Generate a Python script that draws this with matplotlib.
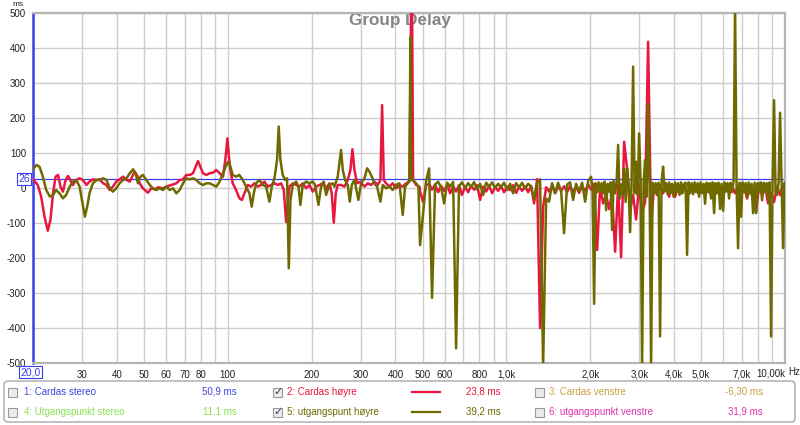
import matplotlib
matplotlib.use("Agg")
import matplotlib.pyplot as plt
import matplotlib.transforms as mtransforms
from matplotlib.patches import FancyBboxPatch, Rectangle
from matplotlib.ticker import NullLocator

plt.rcParams['font.family'] = ['Liberation Sans', 'DejaVu Sans']
plt.rcParams['axes.unicode_minus'] = False

# --- trace 2 (Cardas hoyre), 20 Hz - 490 Hz
red_lf_freq = [20, 20.8, 21.4, 22.0, 22.6, 23.1, 23.6, 24.1, 24.6, 25.1,
               25.6, 26.2, 26.7, 27.2, 27.8, 28.6, 29.4, 30.2, 31.1, 31.9,
               32.8, 33.8, 34.7, 35.7, 36.7, 37.7, 38.7, 39.8, 40.9, 42.1,
               43.3, 44.5, 45.7, 46.3, 47.2, 48.3, 49.6, 51.7, 53.2, 54.7,
               56.2, 58.6, 60.2, 62.7, 65.4, 67.2, 69.1, 71.0, 73.0, 75.0,
               76.7, 78.2, 79.7, 81.5, 83.8, 86.1, 88.5, 91.0, 93.5, 96.2,
               98.3, 99.7, 101,
               102.2, 104.2, 107.1, 110.1, 112.3, 114.8, 118.0, 121.2, 124.6, 128.1,
               131.7, 135.4, 139.2, 143.1, 147.1, 151.2, 155.4, 158.9, 162.0, 164.2,
               166.5, 171.2, 176.0, 180.8, 185.8, 191.1, 196.4, 201.9, 207.6, 213.3,
               219.3, 225.4, 231.7, 236.2, 240.2, 244.2, 248.2, 255.1, 262.3, 269.6,
               275.6, 280.2, 284.9, 291.2, 299.4, 309.4, 318.1, 326.9, 336.0, 345.4,
               353.1, 358.1, 363.1, 370.1, 380.5, 391.0, 401.9, 413.2, 424.7, 436.6,
               448.8, 455.0, 458.7, 462.6, 474.2, 487.5]
red_lf_ms = [25, 8.6, -24.7, -81.8, -122, -91.3, -15.2, 32.4, 37.2, 3.9,
             -10.4, 22.9, 34.3, 22.9, 8.6, 22.9, 27.7, 22.9, 8.6, 18.1,
             24.8, 22.9, 24.8, 13.4, 8.6, -5.7, 3.9, 18.1, 24.8, 32.4,
             22.9, 18.1, 37.2, 46.7, 37.2, 13.4, -0.9, -13.3, -0.9, -3.8,
             2.0, -0.9, 3.9, 8.6, 13.4, 22.9, 24.8, 37.2, 37.2, 42.0,
             61.0, 77, 61.0, 42.0, 37.2, 42.0, 43.9, 51.5, 42.0, 32.4,
             89.5, 142, 89.5,
             51.5, 13.4, -5.6, -29.4, -34.1, -15.1, 8.7, 3.9, 13.4, 3.9,
             8.7, 18.2, 3.9, 8.7, 13.4, 8.7, 13.4, -5.6, -97, -43.7,
             3.9, 13.4, 8.7, 3.9, 13.4, -0.8, 8.7, -10.3, 3.9, 8.7,
             13.4, -0.8, 13.4, -15.1, -98.9, -15.1, 8.7, 8.7, 3.9, 23,
             51.5, 110.6, 51.5, 13.4, 18.2, 3.9, 13.4, 8.7, 18.2, 8.7,
             23, 237, 23, 13.4, 3.9, 13.4, -0.8, 8.7, 3.9, 13.4,
             18.2, 520, 520, 23, 8.7, 3.9]

# --- trace 5 (utgangspunt hoyre), 20 Hz - 490 Hz
olive_lf_freq = [20, 20.6, 21.1, 21.7, 22.3, 23.0, 23.6, 24.2, 24.9, 25.6,
                 26.3, 27.1, 27.8, 28.6, 29.4, 30.1, 30.7, 31.3, 31.9, 32.8,
                 33.8, 34.7, 35.7, 36.7, 37.7, 38.7, 39.8, 40.9, 42.1, 43.3,
                 44.5, 45.7, 46.7, 47.6, 48.6, 49.6, 51.0, 52.5, 53.9, 55.4,
                 57.0, 58.6, 60.2, 61.9, 63.6, 65.4, 67.2, 69.1, 71.0, 73.0,
                 75.0, 77.1, 79.3, 81.5, 83.8, 86.1, 88.5, 91.0, 93.5, 96.2,
                 98.3, 100.2,
                 102.2, 104.2, 107.1, 110.1, 113.2, 116.4, 119.6, 121.9, 124.0, 126.4,
                 129.9, 133.5, 137.3, 141.1, 143.9, 147.1, 150.3, 152.4, 154.5, 157.5,
                 160.6, 163.3, 165.6, 167.9, 171.2, 176.0, 179.3, 182.3, 185.8, 191.1,
                 196.4, 201.9, 205.8, 211.6, 216.3, 221.1, 225.4, 231.7, 238.1, 241.5,
                 248.2, 255.1, 258.7, 263.7, 269.6, 274.1, 278.7, 284.9, 294.4, 301.0,
                 309.4, 316.4, 322.5, 328.7, 336.0, 343.6, 353.1, 360.1, 370.1, 380.5,
                 391.0, 401.9, 413.2, 424.7, 433.0, 442.7, 448.8, 452.4, 456.2, 461.3,
                 474.2, 483.4]
olive_lf_ms = [53.4, 65.7, 61.0, 32.4, -5.7, -24.7, -20, -5.7, -15.2, -29.5,
               -20, 3.9, 18.1, 22.9, 3.9, -43.7, -81.8, -53.3, -15.2, 13.4,
               22.9, 22.9, 27.7, 22.9, -0.9, -10.4, -0.9, 13.4, 22.9, 27.7,
               42, 53.4, 42, 13.4, 32.4, 37.2, 22.9, 8.6, -0.9, -5.7,
               -0.9, -5.7, 3.9, -5.7, -0.9, -15.2, -5.7, 13.4, 27.7, 24.8,
               27.7, 22.9, 13.4, 8.6, 13.4, 13.4, 8.6, 3.9, 18.1, 42,
               61, 75,
               61.1, 37.3, 32.5, 37.3, 23, 3.9, -15.1, -53.2, -15.1, 13.4,
               23, 8.7, 3.9, -38.9, 3.9, 27.7, 80.1, 175.3, 80.1, 37.3,
               23, 27.7, -229.3, -34.1, 8.7, 18.2, 3.9, -48.4, 8.7, 18.2,
               13.4, 18.2, 8.7, -48.4, 3.9, 18.2, -19.9, 8.7, 13.4, 3.9,
               32.5, 108.7, 51.5, 23, 8.7, -38.9, 8.7, 23, -34.1, 13.4,
               27.7, 56.3, 46.8, 32.5, 13.4, 3.9, -38.9, 8.7, -0.8, 3.9,
               -5.6, 8.7, 13.4, -77, 3.9, 13.4, 23, 430, 23, 23,
               13.4, 3.9]

# --- 490 Hz - 10 kHz for trace 2
hf_freq = [490, 502, 515, 528, 541, 555, 569, 583, 598, 613,
           628, 644, 660, 676, 693, 711, 729, 747, 766, 785,
           805, 825, 846, 867, 889, 911, 934, 957, 981, 1006,
           1031, 1057, 1084, 1111, 1139, 1167, 1197, 1227, 1257, 1289,
           1321, 1355, 1389, 1423, 1459, 1496, 1533, 1572, 1611, 1652,
           1693, 1736, 1779, 1824, 1870, 1917, 1965, 2014, 2065, 2117,
           2170, 2224, 2280, 2337, 2396, 2456, 2518, 2581, 2646, 2712,
           2780, 2850, 2921, 2995, 3070, 3147, 3226, 3307, 3390, 3475,
           3562, 3651, 3743, 3837, 3933, 4032, 4133, 4237, 4343, 4452,
           4564, 4678, 4796, 4916, 5039, 5166, 5295, 5428, 5565, 5704,
           5847, 5994, 6145, 6299, 6457, 6619, 6785, 6956, 7130, 7309,
           7492, 7681, 7874, 8071, 8274, 8481, 8694, 8912, 9136, 9365,
           9600, 9841, 10088]
red_hf_ms = [-10, -40, 8, 12, -5, 10, -12, 6, -8, 10,
             -15, 5, -10, 8, -20, 4, -12, 6, -5, 8,
             -34, 4, -10, 6, -15, 3, -8, 5, -12, 4,
             -6, 8, -14, 3, -8, 5, -12, 6, -44, 25,
             -400, -53, 2, -10, 6, -15, 4, -8, 5, -12,
             6, -10, 3, -14, 5, -8, 10, -5, 12, -177,
             5, -44, -20, -60, -15, -182, 10, -198, 132, 56,
             -63, -20, -90, 10, -70, -40, 418, -106, 5, -20,
             8, -15, 6, -25, 10, -25, 4, -15, 8, -20,
             6, -12, 5, -18, 8, -15, 4, -20, 6, -12,
             5, -18, 4, -10, 6, -15, 3, -20, 5, -30,
             4, -35, -68, 5, -20, 6, -44, -15, -40, 5,
             -20, 8, -10]

# --- trace 5, 490 Hz - 1965 Hz (same points as hf_freq[:57])
olive_mid_ms = [-163, -77, 20, 56, -314, 10, 18, 2, -44, 15,
                4, 17, -458, 6, 16, 0, 14, 3, 17, -4,
                12, -20, 15, 4, 16, 0, 12, 3, 15, -6,
                12, -15, 14, 2, 15, -2, 12, 4, -34, 14,
                25, -510, -30, -39, 14, -15, 15, -8, -129, 10,
                16, -34, 12, -10, 15, -39, 20]

# --- trace 5, 2 kHz - 10 kHz, denser points
olive_hf_freq = [2014, 2039, 2065, 2091, 2117, 2143, 2170, 2197, 2224, 2252,
                 2280, 2308, 2337, 2366, 2396, 2426, 2456, 2487, 2518, 2549,
                 2581, 2613, 2646, 2679, 2712, 2746, 2780, 2815, 2850, 2886,
                 2921, 2957, 2995, 3032, 3070, 3108, 3147, 3186, 3226, 3266,
                 3307, 3348, 3390, 3432, 3475, 3518, 3562, 3606, 3651, 3697,
                 3743, 3790, 3837, 3885, 3933, 3982, 4032, 4082, 4133, 4185,
                 4237, 4290, 4343, 4397, 4452, 4508, 4564, 4621, 4678, 4736,
                 4796, 4856, 4916, 4977, 5039, 5102, 5166, 5230, 5295, 5361,
                 5428, 5496, 5565, 5634, 5704, 5775, 5847, 5920, 5994, 6069,
                 6145, 6222, 6299, 6378, 6457, 6538, 6619, 6702, 6785, 6870,
                 6956, 7043, 7130, 7219, 7309, 7400, 7492, 7585, 7681, 7777,
                 7874, 7972, 8071, 8172, 8274, 8377, 8481, 8587, 8694, 8802,
                 8912, 9023, 9136, 9250, 9365, 9482, 9600, 9720, 9841, 9964,
                 10088]
olive_hf_ms = [32, -10, -331, 14, -12, 16, -10, 14, -15, 18,
               -63, 12, -10, 16, -120, 20, -15, 18, 123, -30,
               10, -20, 56, -40, 56, 10, -126, 20, 347, -15,
               75, -20, 156, 20, -510, 15, 80, -25, 240, 10,
               -510, 15, -15, 14, -20, 15, -424, 15, 61, -10,
               14, -18, 16, -15, 12, -25, 16, -12, 14, -20,
               16, -15, 12, 15, -191, 16, -15, 14, -18, 16,
               -12, 14, -25, 16, -15, 12, -45, 15, -12, 14,
               -30, 16, -72, 14, -15, 15, -60, 12, -65, 16,
               -10, 14, -30, 15, -12, 18, 520, 10, -172, 15,
               -82, 16, -12, 14, -25, 16, -15, 12, -72, 15,
               -72, 14, -10, 16, -35, 15, -12, 14, -30, 16,
               -424, 15, 251, -10, -20, 15, 215, 14, -172, 15,
               -10]

grid_freqs = [30, 40, 50, 60, 70, 80, 90, 100, 200, 300, 400, 500, 600, 700,
              800, 900, 1000, 2000, 3000, 4000, 5000, 6000, 7000, 8000, 9000]
tick_text = {30: '30', 40: '40', 50: '50', 60: '60', 70: '70', 80: '80',
             100: '100', 200: '200', 300: '300', 400: '400', 500: '500',
             600: '600', 800: '800', 1000: '1,0k', 2000: '2,0k', 3000: '3,0k',
             4000: '4,0k', 5000: '5,0k', 7000: '7,0k'}

legend_names = ['1: Cardas stereo', '2: Cardas høyre', '3: Cardas venstre',
                '4: Utgangspunkt stereo', '5: utgangspunt høyre',
                '6: utgangspunkt venstre']
legend_values = ['50,9 ms', '23,8 ms', '-6,30 ms', '11,1 ms', '39,2 ms', '31,9 ms']
legend_colors = ['#4444e0', '#e8173f', '#c8a040', '#88e050', '#6e6a00', '#e030b0']
legend_checked = [False, True, False, False, True, False]

RED = '#e8173f'
OLIVE = '#6e6a00'
BLUE = '#3c3cf0'

red_freq = red_lf_freq + hf_freq
red_ms = red_lf_ms + red_hf_ms
olive_freq = olive_lf_freq + hf_freq[:len(olive_mid_ms)] + olive_hf_freq
olive_ms = olive_lf_ms + olive_mid_ms + olive_hf_ms

fig = plt.figure(figsize=(8, 4.25), dpi=100)
ax = fig.add_axes([33 / 800, 62 / 425, 752 / 800, 350 / 425])

ax.plot(red_freq, red_ms, color=RED, lw=1.8, zorder=3)
ax.plot(olive_freq, olive_ms, color=OLIVE, lw=1.8, zorder=4)

ax.set_xscale('log')
ax.set_xlim(20, 10000)
ax.set_ylim(-500, 500)
ax.set_xticks(grid_freqs)
ax.set_xticklabels([tick_text.get(f, '') for f in grid_freqs])
ax.xaxis.set_minor_locator(NullLocator())
ax.set_yticks(range(-500, 501, 100))
ax.grid(True, color='#cdcdcd', lw=1.0, zorder=0)
ax.set_axisbelow(True)
ax.tick_params(axis='both', length=0, labelsize=7, colors='#222222')
ax.tick_params(axis='x', pad=5)
ax.tick_params(axis='y', pad=5)

for s in ax.spines.values():
    s.set_color('#b5b5b5')
    s.set_linewidth(1.6)
ax.spines['left'].set_color(BLUE)
ax.spines['left'].set_linewidth(1.8)

# cursor
ax.axhline(26, color=BLUE, lw=0.9, zorder=2)
ty = mtransforms.blended_transform_factory(ax.transAxes, ax.transData)
ax.text(-0.004, 26, '26', transform=ty, ha='right', va='center', color=BLUE,
        fontsize=7.5, clip_on=False,
        bbox=dict(boxstyle='square,pad=0.12', fc='white', ec=BLUE, lw=0.8))
tx = mtransforms.blended_transform_factory(ax.transData, ax.transAxes)
ax.text(19.6, -0.012, '20,0', transform=tx, ha='center', va='top', color=BLUE,
        fontsize=7.5, clip_on=False,
        bbox=dict(boxstyle='square,pad=0.12', fc='white', ec=BLUE, lw=0.8))
ax.text(10000, -0.015, '10,00k', transform=tx, ha='right', va='top',
        fontsize=7, color='#222222', clip_on=False)

ax.text((400 - 33) / 752, 0.979, 'Group Delay', transform=ax.transAxes,
        ha='center', va='center', fontsize=12.3, fontweight='bold',
        color='#858585', zorder=1)

fig.text(18 / 800, 1 - 5 / 425, 'ms', ha='center', va='center', fontsize=6,
         color='#222222')
fig.text(788 / 800, 1 - 372 / 425, 'Hz', ha='left', va='center', fontsize=7,
         color='#222222')

# legend panel at the bottom
lg = fig.add_axes([0, 0, 1, 1])
lg.set_xlim(0, 800)
lg.set_ylim(425, 0)
lg.axis('off')
lg.add_patch(FancyBboxPatch((4, 381), 791, 41,
                            boxstyle='round,pad=0,rounding_size=4',
                            fc='white', ec='#a8a8a8', lw=1))

box_x = [8, 273, 535]
name_x = [24, 287, 549]
value_x = [237, 501, 763]
row_y = [392, 412]
for i, name in enumerate(legend_names):
    r, c = divmod(i, 3)
    y = row_y[r]
    lg.add_patch(Rectangle((box_x[c], y - 4.5), 9, 9, fc='#ececec',
                           ec='#9a9a9a', lw=0.8))
    if legend_checked[i]:
        lg.text(box_x[c] + 4.8, y + 0.3, '\u2713', ha='center', va='center',
                fontsize=8, color='#3a3a70', family='DejaVu Sans')
        lg.plot([412, 440], [y, y], color=legend_colors[i], lw=1.6)
    lg.text(name_x[c], y, name, ha='left', va='center', fontsize=7,
            color=legend_colors[i])
    lg.text(value_x[c], y, legend_values[i], ha='right', va='center',
            fontsize=7, color=legend_colors[i])

fig.savefig('out.png', dpi=100)
